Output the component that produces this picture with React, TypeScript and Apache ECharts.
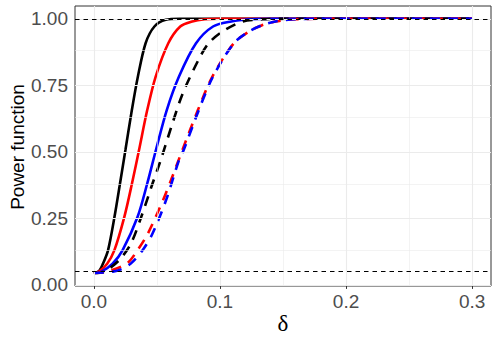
import React, { useEffect, useRef } from "react";
import * as echarts from "echarts";

// Axis ticks / grid
const xTicks = [0, 0.1, 0.2, 0.3];
const xMinorGrid = [0.05, 0.15, 0.25];
const yTicks = [0, 0.25, 0.5, 0.75, 1];
const yMinorGrid = [0.125, 0.375, 0.625, 0.875];
const referenceLines = [0.05, 1];
const xTitle = "δ";
const yTitle = "Power function";

// Power curves: [delta, power]
const blackSolid = [
  [0, 0.045], [0.004, 0.052], [0.0072, 0.08], [0.0112, 0.13], [0.0163, 0.255],
  [0.0207, 0.381], [0.025, 0.507], [0.0301, 0.657], [0.0349, 0.783], [0.041, 0.908],
  [0.048, 0.971], [0.057, 0.996], [0.068, 1.0], [0.3, 1.0],
];
const redSolid = [
  [0, 0.045], [0.004, 0.05], [0.0105, 0.08], [0.0162, 0.13], [0.0241, 0.255],
  [0.0302, 0.381], [0.0358, 0.507], [0.0423, 0.657], [0.049, 0.783], [0.059, 0.908],
  [0.0685, 0.971], [0.078, 0.99], [0.088, 0.998], [0.1, 1.0], [0.3, 1.0],
];
const blueSolid = [
  [0, 0.045], [0.006, 0.05], [0.0148, 0.08], [0.0227, 0.13], [0.0346, 0.255],
  [0.0423, 0.381], [0.0492, 0.507], [0.0578, 0.657], [0.0675, 0.783], [0.081, 0.908],
  [0.0945, 0.971], [0.109, 0.99], [0.123, 0.998], [0.14, 1.0], [0.3, 1.0],
];
const blackDashed = [
  [0, 0.045], [0.008, 0.05], [0.0198, 0.092], [0.0293, 0.155], [0.0375, 0.255],
  [0.0465, 0.381], [0.053, 0.469], [0.0623, 0.607], [0.0705, 0.72], [0.083, 0.846],
  [0.091, 0.908], [0.102, 0.952], [0.118, 0.99], [0.134, 0.998], [0.155, 1.0], [0.3, 1.0],
];
const redDashed = [
  [0, 0.045], [0.01, 0.05], [0.026, 0.08], [0.0345, 0.13], [0.0428, 0.193],
  [0.0548, 0.318], [0.0612, 0.394], [0.0702, 0.507], [0.0825, 0.657], [0.094, 0.783],
  [0.111, 0.908], [0.123, 0.952], [0.133, 0.975], [0.144, 0.99], [0.16, 0.998],
  [0.18, 1.0], [0.3, 1.0],
];
const blueDashed = [
  [0, 0.045], [0.015, 0.05], [0.0227, 0.061], [0.0292, 0.08], [0.0386, 0.13],
  [0.0465, 0.193], [0.0572, 0.318], [0.0675, 0.469], [0.0712, 0.507], [0.0832, 0.657],
  [0.0945, 0.783], [0.111, 0.908], [0.123, 0.952], [0.133, 0.975], [0.144, 0.99],
  [0.16, 0.998], [0.18, 1.0], [0.3, 1.0],
];

const curveData = [blackSolid, redSolid, blueSolid, blackDashed, redDashed, blueDashed];
const curveNames = ["black solid", "red solid", "blue solid", "black dashed", "red dashed", "blue dashed"];
const curveColors = ["#000000", "#FF0000", "#0000FF", "#000000", "#FF0000", "#0000FF"];
const curveDashed = [false, false, false, true, true, true];

export default function App() {
  const ref = useRef<HTMLDivElement>(null);
  useEffect(() => {
    if (!ref.current) return;
    const chart = echarts.init(ref.current, undefined, { renderer: "svg" });
    const gridColor = "#EBEBEB";
    const gridSeries: any = {
      type: "line",
      data: [],
      z: 1,
      silent: true,
      markLine: {
        silent: true,
        symbol: "none",
        label: { show: false },
        animation: false,
        data: [
          ...xMinorGrid.map((v) => ({ xAxis: v, lineStyle: { color: gridColor, width: 0.6, type: "solid" } })),
          ...yMinorGrid.map((v) => ({ yAxis: v, lineStyle: { color: gridColor, width: 0.6, type: "solid" } })),
          ...xTicks.map((v) => ({ xAxis: v, lineStyle: { color: gridColor, width: 1.1, type: "solid" } })),
          ...yTicks.map((v) => ({ yAxis: v, lineStyle: { color: gridColor, width: 1.1, type: "solid" } })),
        ],
      },
    };
    const refSeries: any = {
      type: "line",
      data: [],
      z: 2,
      silent: true,
      markLine: {
        silent: true,
        symbol: "none",
        label: { show: false },
        animation: false,
        data: referenceLines.map((v) => ({
          yAxis: v,
          lineStyle: { color: "#000000", width: 1.1, type: [4.5, 4] },
        })),
      },
    };
    const curves = curveData.map((d, i) => ({
      name: curveNames[i],
      type: "line",
      data: d,
      z: 3,
      showSymbol: false,
      smooth: 0.3,
      lineStyle: {
        color: curveColors[i],
        width: 2.6,
        type: curveDashed[i] ? [10, 8] : "solid",
        cap: "butt",
      },
    }));
    chart.setOption({
      animation: false,
      backgroundColor: "#ffffff",
      grid: {
        left: 75,
        right: 7,
        top: 6,
        bottom: 56,
        show: true,
        borderColor: "#333333",
        borderWidth: 1,
        backgroundColor: "#ffffff",
        containLabel: false,
        outerBoundsMode: "none",
      },
      graphic: [
        {
          type: "text",
          x: 283,
          y: 323,
          silent: true,
          style: {
            text: xTitle,
            fontFamily: "Liberation Serif",
            fontSize: 23,
            fill: "#000000",
            align: "center",
            verticalAlign: "middle",
          },
        },
        {
          type: "text",
          x: 17,
          y: 147,
          rotation: Math.PI / 2,
          silent: true,
          style: {
            text: yTitle,
            fontFamily: "Liberation Sans",
            fontSize: 19,
            fill: "#000000",
            align: "center",
            verticalAlign: "middle",
          },
        },
      ],
      xAxis: {
        type: "value",
        min: -0.015,
        max: 0.315,
        axisLine: { show: false },
        splitLine: { show: false },
        axisTick: { show: true, customValues: xTicks, length: 4, lineStyle: { color: "#333333", width: 1 } },
        axisLabel: {
          customValues: xTicks,
          margin: 6,
          fontFamily: "Liberation Sans",
          fontSize: 19,
          color: "#4D4D4D",
          formatter: (v: number) => v.toFixed(1),
        },
      },
      yAxis: {
        type: "value",
        min: -0.004,
        max: 1.048,
        axisLine: { show: false },
        splitLine: { show: false },
        axisTick: { show: true, customValues: yTicks, length: 4, lineStyle: { color: "#333333", width: 1 } },
        axisLabel: {
          customValues: yTicks,
          margin: 7,
          fontFamily: "Liberation Sans",
          fontSize: 19,
          color: "#4D4D4D",
          formatter: (v: number) => v.toFixed(2),
        },
      },
      series: [gridSeries, refSeries, ...curves],
    });
    return () => chart.dispose();
  }, []);
  return (
    <div
      ref={ref}
      style={{ position: "fixed", left: 0, top: 0, width: 498, height: 342, background: "#fff" }}
    />
  );
}
